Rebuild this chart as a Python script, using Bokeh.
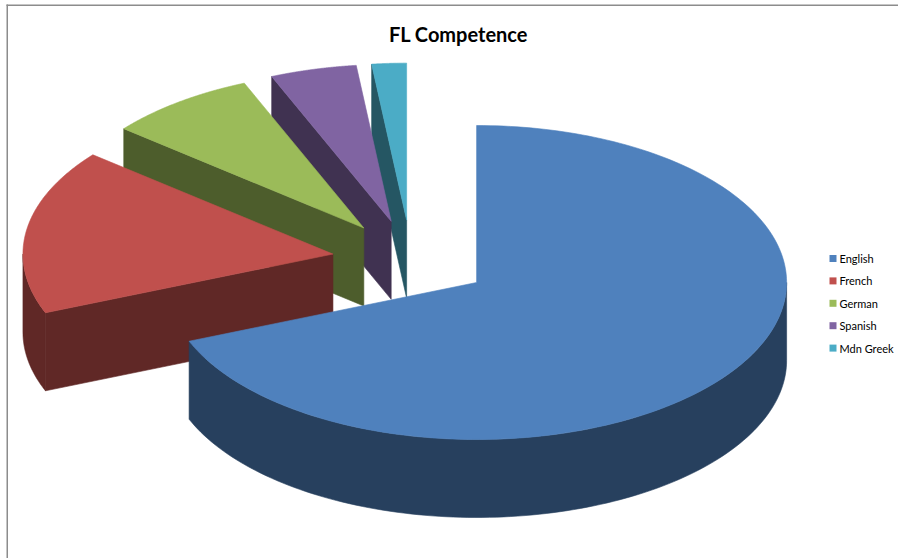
import numpy as np
from bokeh.plotting import figure
from bokeh.models import Range1d
from bokeh.core.properties import value
from bokeh.embed import file_html
from bokeh.resources import INLINE

# ---- data ----
categories = ["English", "French", "German", "Spanish", "Mdn Greek"]
shares = [68.9, 17.0, 7.8, 4.5, 1.8]
top_colors = ["#4F81BD", "#C0504D", "#9BBB59", "#8064A2", "#4BACC6"]
side_colors = ["#27405E", "#602826", "#4D5D2C", "#403251", "#255663"]
title_text = "FL Competence"

# ---- layout (screen-pixel data space) ----
W, H = 898, 558
CX0, CY0 = 410.6, 259.6      # pie centre (top face)
RX, RY = 310.0, 157.0        # ellipse radii of top face
DEPTH = 78.0                 # extrusion
EXPLODE = 0.255              # explosion fraction

p = figure(width=W, height=H, x_range=Range1d(0, W), y_range=Range1d(H, 0),
           output_backend="svg", toolbar_location=None, min_border=0,
           x_axis_type=None, y_axis_type=None)
p.grid.visible = False
p.outline_line_color = None
p.background_fill_color = "white"
p.border_fill_color = "white"

total = float(sum(shares))
cum = np.concatenate([[0.0], np.cumsum(shares)]) / total

def pt(cx, cy, a, dz=0.0):
    return cx + RX * np.cos(a), cy - RY * np.sin(a) + dz

xs, ys, fills = [], [], []

order = list(range(len(categories)))[::-1]
for i in order:
    a_high = np.radians(90.0 - cum[i] * 360.0)
    a_low = np.radians(90.0 - cum[i + 1] * 360.0)
    mid = 0.5 * (a_low + a_high)
    cx = CX0 + EXPLODE * RX * np.cos(mid)
    cy = CY0 - EXPLODE * RY * np.sin(mid)

    # radial faces
    for a, vis in ((a_low, np.cos(a_low) > 1e-6), (a_high, np.cos(a_high) < -1e-6)):
        if vis:
            rx_, ry_ = pt(cx, cy, a)
            xs.append([cx, rx_, rx_, cx])
            ys.append([cy, ry_, ry_ + DEPTH, cy + DEPTH])
            fills.append(side_colors[i])

    # outer wall (front half: sin < 0)
    for lo_v, hi_v in ((-np.pi, 0.0), (np.pi, 2 * np.pi), (-3 * np.pi, -2 * np.pi)):
        lo = max(a_low, lo_v)
        hi = min(a_high, hi_v)
        if hi - lo > 1e-6:
            t = np.linspace(lo, hi, 120)
            tx, ty = pt(cx, cy, t)
            bx, by = pt(cx, cy, t[::-1], DEPTH)
            xs.append(list(tx) + list(bx))
            ys.append(list(ty) + list(by))
            fills.append(side_colors[i])

    # top face
    t = np.linspace(a_low, a_high, 200)
    tx, ty = pt(cx, cy, t)
    xs.append([cx] + list(tx))
    ys.append([cy] + list(ty))
    fills.append(top_colors[i])

p.patches(xs, ys, fill_color=fills, line_color=fills, line_width=0.6)

# chart border (top & left)
p.line([6.75, 6.75], [4, H], line_color="#8C8C8C", line_width=1.5)
p.line([6, W], [4.75, 4.75], line_color="#8C8C8C", line_width=1.5)

# title
p.text(x=[458], y=[33], text=[title_text], text_align="center", text_baseline="middle",
       text_font=value("Lato"), text_font_style="bold", text_font_size="20px", text_color="black")

# legend
ly = [258 + 22.4 * k for k in range(len(categories))]
p.rect(x=[832.5] * len(categories), y=ly, width=7, height=7, fill_color=top_colors, line_color=None)
p.text(x=[839] * len(categories), y=ly, text=categories, text_align="left", text_baseline="middle",
       text_font=value("Lato"), text_font_size="11px", text_color="#000000")

open("out.html", "w").write(file_html(p, INLINE))
